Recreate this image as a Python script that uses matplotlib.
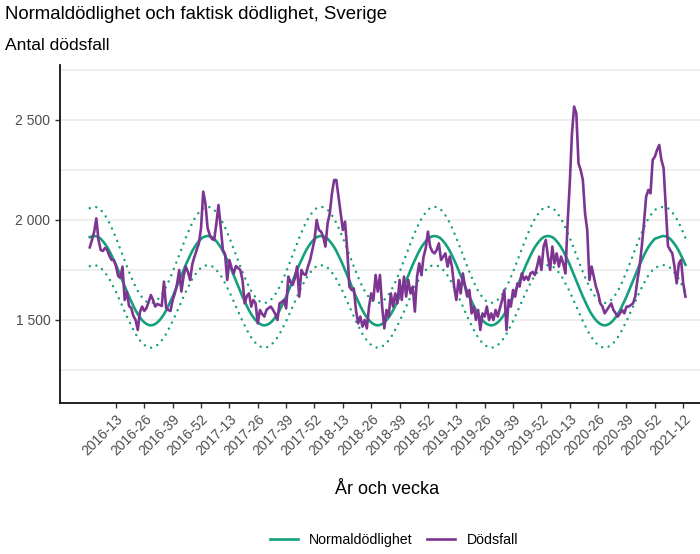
import numpy as np
import matplotlib
matplotlib.use("Agg")
import matplotlib.pyplot as plt
from matplotlib.ticker import FuncFormatter
from matplotlib.lines import Line2D

plt.rcParams['font.family'] = ['Liberation Sans', 'DejaVu Sans']

# weeks per year in the series (2016-01 .. 2021-13)
years = [2016, 2017, 2018, 2019, 2020, 2021]
weeks_in_year = [52, 52, 52, 52, 53, 13]

# expected deaths per week of year (week 1..53)
normal_by_week = [1914, 1918, 1920, 1918, 1914, 1906, 1894, 1880, 1864, 1845,
                  1823, 1800, 1776, 1750, 1723, 1696, 1670, 1643, 1617, 1593,
                  1570, 1548, 1529, 1513, 1499, 1488, 1480, 1475, 1473, 1475,
                  1480, 1488, 1499, 1513, 1529, 1548, 1570, 1593, 1617, 1643,
                  1670, 1696, 1723, 1750, 1776, 1800, 1823, 1845, 1864, 1880,
                  1894, 1906, 1910]
upper_by_week = [2059, 2064, 2066, 2064, 2059, 2051, 2038, 2023, 2006, 1985,
                 1962, 1937, 1911, 1883, 1854, 1825, 1797, 1768, 1740, 1714,
                 1689, 1666, 1645, 1628, 1613, 1601, 1592, 1587, 1585, 1587,
                 1592, 1601, 1613, 1628, 1645, 1666, 1689, 1714, 1740, 1768,
                 1797, 1825, 1854, 1883, 1911, 1937, 1962, 1985, 2006, 2023,
                 2038, 2051, 2055]
lower_by_week = [1769, 1772, 1774, 1772, 1769, 1761, 1750, 1737, 1722, 1705,
                 1684, 1663, 1641, 1617, 1592, 1567, 1543, 1518, 1494, 1472,
                 1451, 1430, 1413, 1398, 1385, 1375, 1368, 1363, 1361, 1363,
                 1368, 1375, 1385, 1398, 1413, 1430, 1451, 1472, 1494, 1518,
                 1543, 1567, 1592, 1617, 1641, 1663, 1684, 1705, 1722, 1737,
                 1750, 1761, 1765]

deaths_2016 = [1863, 1900, 1940, 2008, 1900, 1850, 1845, 1860, 1850, 1820,
               1800, 1800, 1770, 1720, 1710, 1767, 1600, 1640, 1570, 1560,
               1520, 1500, 1450, 1540, 1567, 1545, 1560, 1590, 1625, 1600,
               1567, 1580, 1575, 1570, 1692, 1560, 1550, 1545, 1600, 1633,
               1680, 1750, 1642, 1720, 1767, 1740, 1700, 1780, 1817, 1850,
               1883, 1960]
deaths_2017 = [2142, 2083, 1960, 1925, 1905, 1900, 1980, 2075, 1967, 1850,
               1830, 1700, 1800, 1760, 1733, 1770, 1760, 1750, 1700, 1583,
               1620, 1633, 1567, 1600, 1583, 1483, 1550, 1530, 1517, 1550,
               1560, 1567, 1550, 1530, 1500, 1583, 1590, 1600, 1558, 1717,
               1690, 1675, 1708, 1767, 1617, 1750, 1730, 1725, 1767, 1800,
               1850, 1900]
deaths_2018 = [2000, 1950, 1942, 1917, 1867, 1983, 2033, 2133, 2200, 2200,
               2117, 2033, 1950, 1992, 1850, 1667, 1650, 1658, 1550, 1483,
               1517, 1467, 1500, 1458, 1567, 1633, 1600, 1725, 1642, 1725,
               1567, 1458, 1550, 1517, 1633, 1567, 1633, 1583, 1700, 1600,
               1717, 1617, 1700, 1633, 1667, 1542, 1717, 1783, 1725, 1817,
               1860, 1942]
deaths_2019 = [1867, 1842, 1833, 1850, 1883, 1800, 1817, 1833, 1767, 1817,
               1767, 1667, 1600, 1700, 1633, 1733, 1667, 1617, 1650, 1533,
               1567, 1500, 1550, 1450, 1533, 1517, 1567, 1500, 1533, 1500,
               1550, 1517, 1560, 1600, 1650, 1450, 1600, 1567, 1650, 1617,
               1683, 1667, 1733, 1700, 1717, 1700, 1733, 1740, 1725, 1767,
               1817, 1750]
deaths_2020 = [1867, 1900, 1817, 1750, 1867, 1783, 1833, 1767, 1817, 1783,
               1733, 1983, 2183, 2433, 2567, 2533, 2283, 2250, 2200, 2033,
               1950, 1700, 1767, 1717, 1667, 1633, 1583, 1567, 1533, 1550,
               1567, 1583, 1550, 1533, 1517, 1533, 1550, 1533, 1567, 1567,
               1575, 1583, 1617, 1700, 1767, 1867, 1983, 2117, 2150, 2133,
               2300, 2317, 2350]
deaths_2021 = [2375, 2300, 2260, 2060, 1870, 1850, 1833, 1767, 1683, 1783,
               1800, 1683, 1617]

tick_labels = ["2016-13", "2016-26", "2016-39", "2016-52",
               "2017-13", "2017-26", "2017-39", "2017-52",
               "2018-13", "2018-26", "2018-39", "2018-52",
               "2019-13", "2019-26", "2019-39", "2019-52",
               "2020-13", "2020-26", "2020-39", "2020-52", "2021-12"]

# build week labels and series
labels = []
week_no = []
for y, n in zip(years, weeks_in_year):
    for w in range(1, n + 1):
        labels.append(f"{y}-{w}")
        week_no.append(w)
deaths = deaths_2016 + deaths_2017 + deaths_2018 + deaths_2019 + deaths_2020 + deaths_2021
normal = [normal_by_week[w - 1] for w in week_no]
upper = [upper_by_week[w - 1] for w in week_no]
lower = [lower_by_week[w - 1] for w in week_no]
x = np.arange(len(labels))

green = "#14a07c"
purple = "#7d3592"

fig = plt.figure(figsize=(7, 5.54), dpi=100)
ax = fig.add_axes([0.0857, 0.2726, 0.936, 0.6101])

ax.plot(x, upper, color=green, lw=1.8, linestyle=(0, (0.01, 2.7)), dash_capstyle='round')
ax.plot(x, lower, color=green, lw=1.8, linestyle=(0, (0.01, 2.7)), dash_capstyle='round')
ax.plot(x, normal, color=green, lw=1.9)
ax.plot(x, deaths, color=purple, lw=1.9)

n = len(x) - 1
ax.set_xlim(-0.05 * n, n * 1.05)
ax.set_ylim(1085, 2775)

for v in [1250, 1500, 1750, 2000, 2250, 2500, 2750]:
    ax.axhline(v, color="#e8e8e8", lw=1.1, zorder=0)

ax.set_yticks([1500, 2000, 2500])
ax.yaxis.set_major_formatter(FuncFormatter(lambda v, p: f"{int(v):,}".replace(",", " ")))
ax.set_xticks([labels.index(t) for t in tick_labels])
ax.set_xticklabels(tick_labels, rotation=45, ha='right', rotation_mode='anchor')

ax.tick_params(axis='both', length=3.5, width=1, color="#333333", labelcolor="#4d4d4d", labelsize=10)
ax.tick_params(axis='x', pad=3)
for s in ["top", "right"]:
    ax.spines[s].set_visible(False)
for s in ["left", "bottom"]:
    ax.spines[s].set_linewidth(1.3)
    ax.spines[s].set_color("#111111")

fig.text(0.007, 0.973, "Normaldödlighet och faktisk dödlighet, Sverige", fontsize=13.4, va='center', ha='left')
fig.text(0.007, 0.917, "Antal dödsfall", fontsize=12.6, va='center', ha='left')
fig.text(387 / 700, 1 - 490 / 554, "År och vecka", fontsize=13, va='center', ha='center')

handles = [Line2D([], [], color=green, lw=1.9), Line2D([], [], color=purple, lw=1.9)]
fig.legend(handles, ["Normaldödlighet", "Dödsfall"], loc='center', bbox_to_anchor=(394 / 700, 1 - 540 / 554),
           ncol=2, frameon=False, fontsize=10.2, handlelength=2.0, columnspacing=1.0)

fig.savefig("out.png", dpi=100)
